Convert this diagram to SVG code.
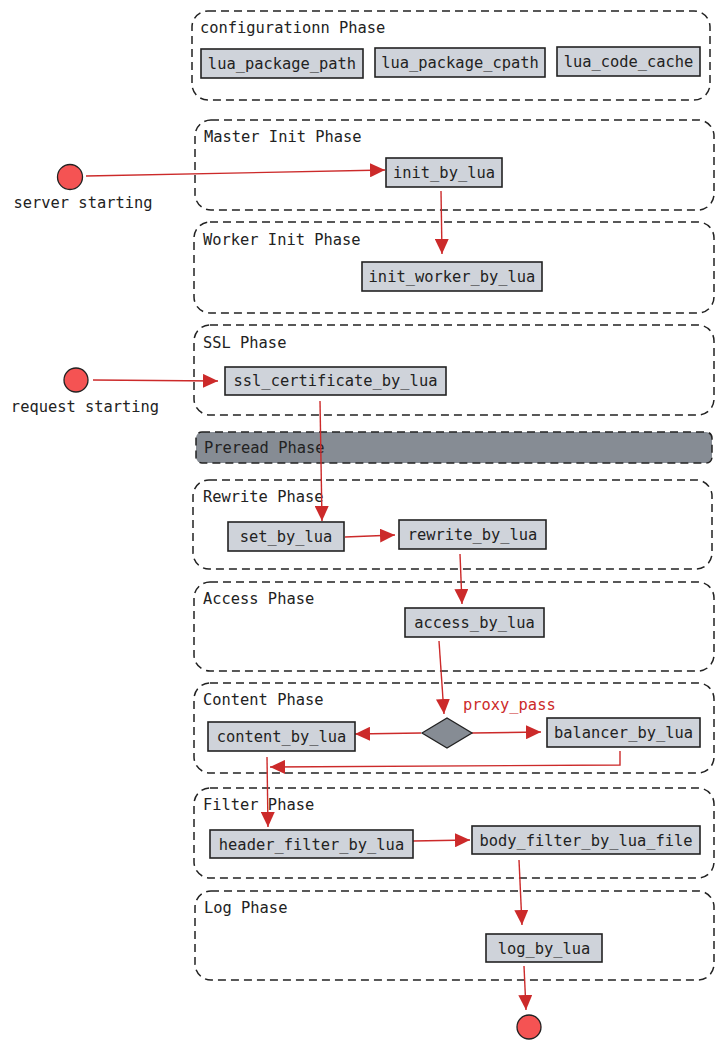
<svg xmlns="http://www.w3.org/2000/svg" width="725" height="1049" viewBox="0 0 725 1049">
<defs>
<style>
text{font-family:"DejaVu Sans Mono","Liberation Mono",monospace;font-size:15.4px;fill:#222}
.ph{fill:none;stroke:#222;stroke-width:1.5;stroke-dasharray:8 5}
.nd{fill:#cfd3da;stroke:#222;stroke-width:1.6}
.nt{text-anchor:middle}
.st{fill:#f55353;stroke:#222;stroke-width:1.3}
.ed{fill:none;stroke:#cc2a2a;stroke-width:1.4}
</style>
<marker id="ah" markerUnits="userSpaceOnUse" markerWidth="16" markerHeight="14" refX="15" refY="7" orient="auto">
<path d="M0,0 L15,7 L0,14 Z" fill="#cc2a2a"/>
</marker>
</defs>
<rect width="725" height="1049" fill="#fff"/>
<g id="phases">
<g id="config-phase"><rect class="ph" x="192" y="11" width="518" height="89" rx="16"/><text x="200" y="33">configurationn Phase</text></g>
<g id="master-phase"><rect class="ph" x="195" y="120" width="519" height="90" rx="16"/><text x="204" y="142">Master Init Phase</text></g>
<g id="worker-phase"><rect class="ph" x="194" y="222" width="520" height="91" rx="16"/><text x="203" y="245">Worker Init Phase</text></g>
<g id="ssl-phase"><rect class="ph" x="194" y="325" width="520" height="90" rx="16"/><text x="203" y="348">SSL Phase</text></g>
<g id="preread-phase"><rect x="196" y="432" width="516" height="31" rx="6" fill="#868c94" stroke="#222" stroke-width="1.5" stroke-dasharray="8 5"/><text x="204" y="453">Preread Phase</text></g>
<g id="rewrite-phase"><rect class="ph" x="193" y="480" width="519" height="89" rx="16"/><text x="203" y="502">Rewrite Phase</text></g>
<g id="access-phase"><rect class="ph" x="194" y="582" width="520" height="89" rx="16"/><text x="203" y="604">Access Phase</text></g>
<g id="content-phase"><rect class="ph" x="194" y="683" width="520" height="90" rx="16"/><text x="203" y="705">Content Phase</text></g>
<g id="filter-phase"><rect class="ph" x="194" y="788" width="520" height="90" rx="16"/><text x="203" y="810">Filter Phase</text></g>
<g id="log-phase"><rect class="ph" x="195" y="891" width="519" height="89" rx="16"/><text x="204" y="913">Log Phase</text></g>
</g>
<g id="edges">
<line class="ed" x1="86" y1="176" x2="385" y2="170" marker-end="url(#ah)"/>
<line class="ed" x1="441" y1="191" x2="442" y2="254" marker-end="url(#ah)"/>
<line class="ed" x1="93" y1="380" x2="218" y2="381" marker-end="url(#ah)"/>
<line class="ed" x1="320" y1="401" x2="322" y2="521" marker-end="url(#ah)"/>
<line class="ed" x1="345" y1="537" x2="395" y2="535" marker-end="url(#ah)"/>
<line class="ed" x1="460" y1="554" x2="462" y2="604" marker-end="url(#ah)"/>
<line class="ed" x1="439" y1="641" x2="444" y2="714" marker-end="url(#ah)"/>
<line class="ed" x1="421" y1="733" x2="355" y2="734" marker-end="url(#ah)"/>
<line class="ed" x1="472" y1="733" x2="541" y2="732" marker-end="url(#ah)"/>
<polyline class="ed" points="620,751 620,765 270,767" marker-end="url(#ah)"/>
<line class="ed" x1="267" y1="757" x2="268" y2="827" marker-end="url(#ah)"/>
<line class="ed" x1="413" y1="841" x2="470" y2="840" marker-end="url(#ah)"/>
<line class="ed" x1="519" y1="860" x2="522" y2="925" marker-end="url(#ah)"/>
<line class="ed" x1="524" y1="966" x2="526" y2="1010" marker-end="url(#ah)"/>
<text x="463" y="710" style="fill:#cc2a2a">proxy_pass</text>
</g>
<g id="nodes">
<g id="lua_package_path"><rect class="nd" x="201" y="49" width="162" height="29"/><text class="nt" x="282" y="69">lua_package_path</text></g>
<g id="lua_package_cpath"><rect class="nd" x="375" y="48" width="170" height="29"/><text class="nt" x="460" y="68">lua_package_cpath</text></g>
<g id="lua_code_cache"><rect class="nd" x="557" y="47" width="143" height="29"/><text class="nt" x="628.5" y="67">lua_code_cache</text></g>
<g id="server-start"><circle class="st" cx="70" cy="177" r="12.5"/><text class="nt" x="83" y="208">server starting</text></g>
<g id="init_by_lua"><rect class="nd" x="386" y="158" width="116" height="29"/><text class="nt" x="444" y="178">init_by_lua</text></g>
<g id="init_worker_by_lua"><rect class="nd" x="362" y="262" width="180" height="29"/><text class="nt" x="452" y="282">init_worker_by_lua</text></g>
<g id="request-start"><circle class="st" cx="76" cy="380" r="12"/><text class="nt" x="85" y="412">request starting</text></g>
<g id="ssl_certificate_by_lua"><rect class="nd" x="225" y="367" width="221" height="28"/><text class="nt" x="335.5" y="386">ssl_certificate_by_lua</text></g>
<g id="set_by_lua"><rect class="nd" x="228" y="522" width="116" height="29"/><text class="nt" x="286" y="542">set_by_lua</text></g>
<g id="rewrite_by_lua"><rect class="nd" x="399" y="520" width="147" height="29"/><text class="nt" x="472.5" y="540">rewrite_by_lua</text></g>
<g id="access_by_lua"><rect class="nd" x="405" y="608" width="139" height="29"/><text class="nt" x="474.5" y="628">access_by_lua</text></g>
<g id="decision"><polygon points="422,733 447,718 472,733 447,748" fill="#868c94" stroke="#222" stroke-width="1.3"/></g>
<g id="content_by_lua"><rect class="nd" x="208" y="722" width="147" height="29"/><text class="nt" x="281.5" y="742">content_by_lua</text></g>
<g id="balancer_by_lua"><rect class="nd" x="547" y="718" width="153" height="29"/><text class="nt" x="623.5" y="738">balancer_by_lua</text></g>
<g id="header_filter_by_lua"><rect class="nd" x="210" y="830" width="203" height="28"/><text class="nt" x="311.5" y="850">header_filter_by_lua</text></g>
<g id="body_filter_by_lua_file"><rect class="nd" x="472" y="826" width="228" height="28"/><text class="nt" x="586" y="846">body_filter_by_lua_file</text></g>
<g id="log_by_lua"><rect class="nd" x="486" y="934" width="116" height="28"/><text class="nt" x="544" y="954">log_by_lua</text></g>
<g id="end"><circle class="st" cx="529" cy="1027" r="12"/></g>
</g>
</svg>
